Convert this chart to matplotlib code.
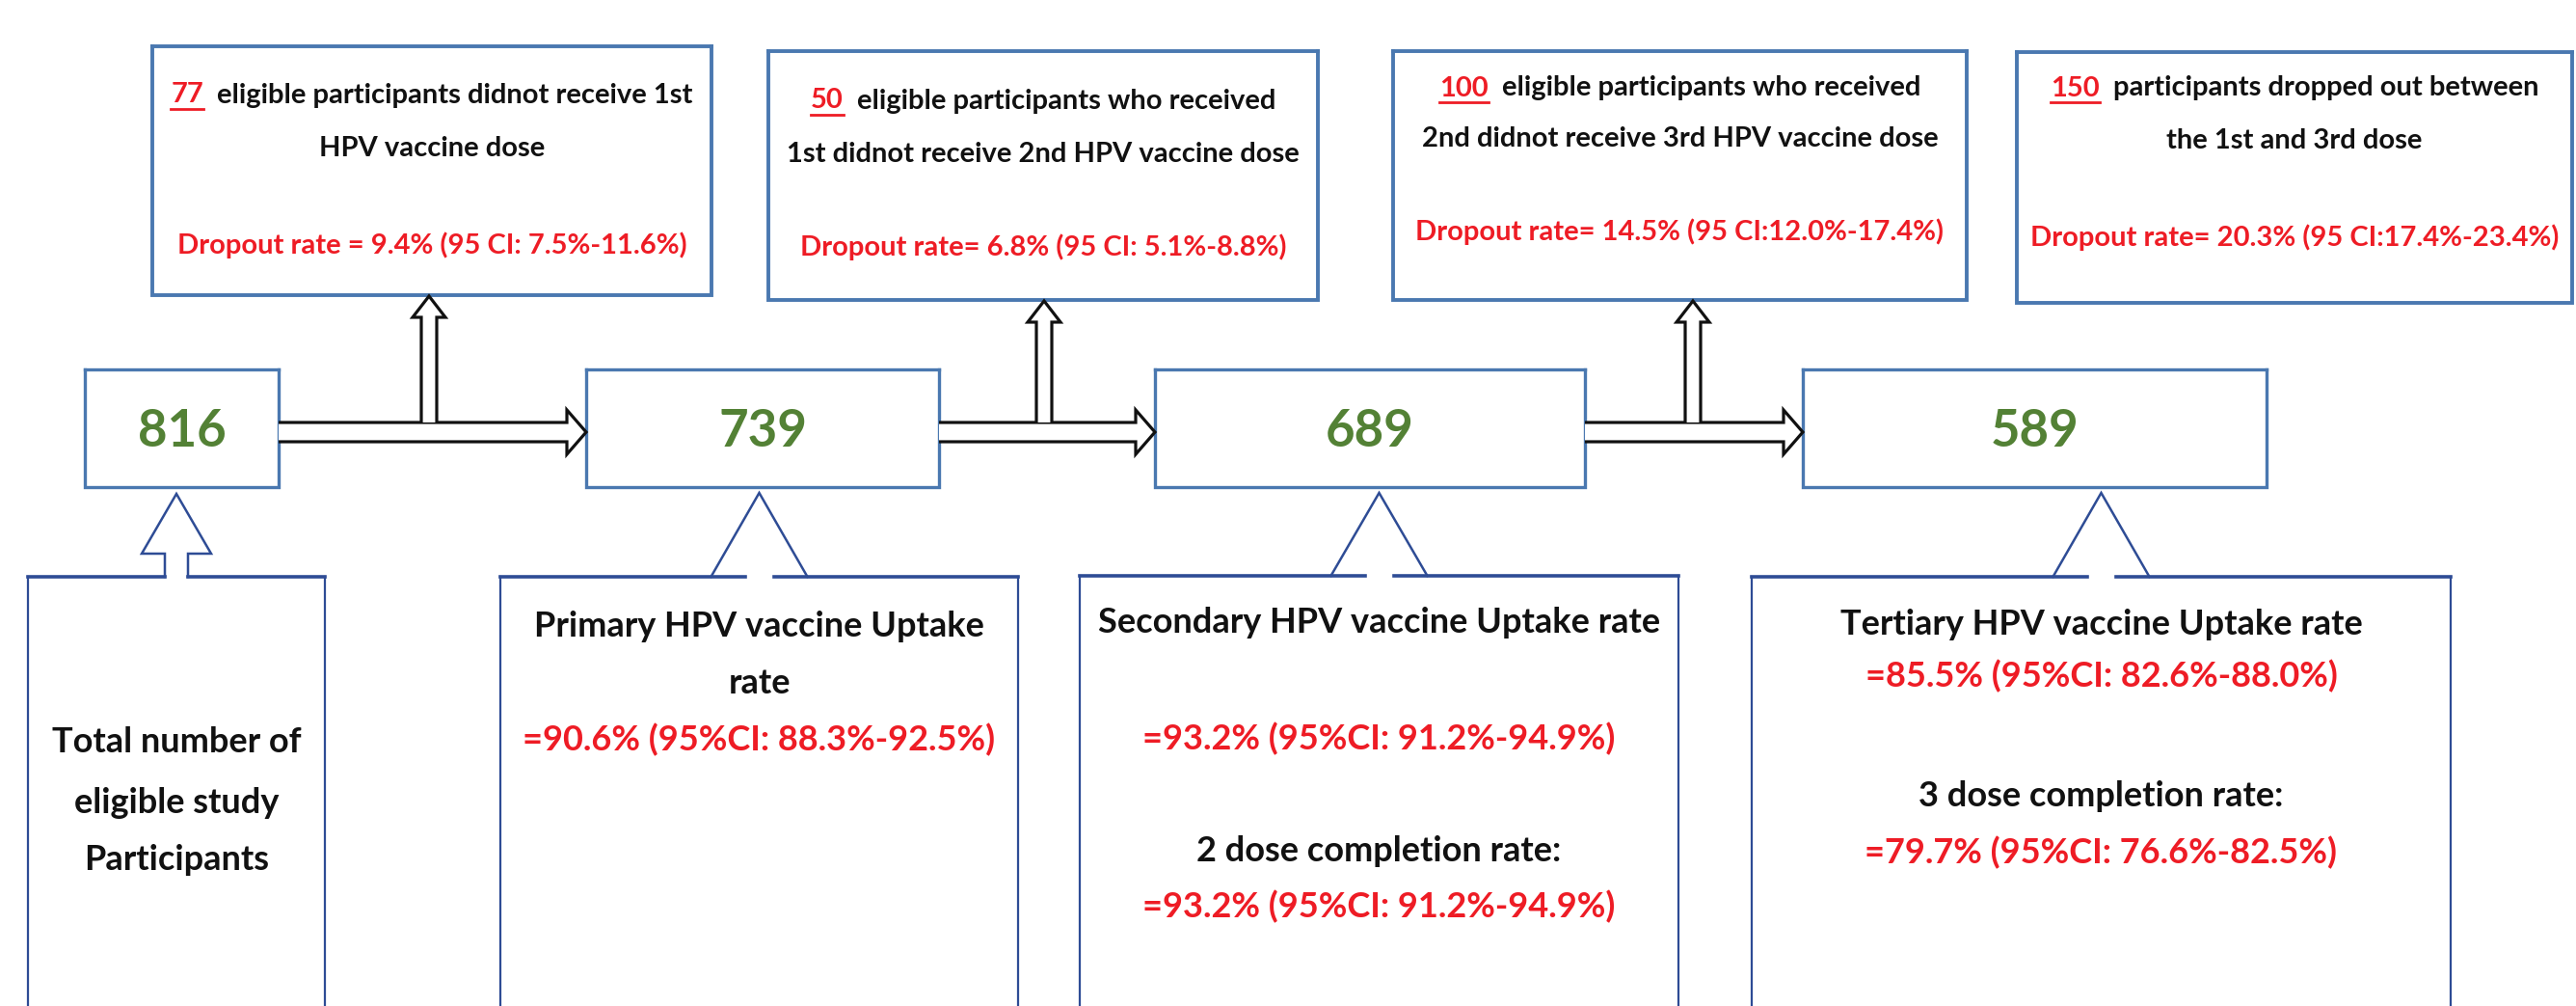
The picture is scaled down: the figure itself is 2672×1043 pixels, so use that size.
import matplotlib
matplotlib.use("Agg")
import matplotlib.pyplot as plt
from matplotlib.patches import Polygon

W, H = 2672, 1043

# ======================================================
# Data
# ======================================================

counts = [816, 739, 689, 589]

dropout_n = ["77", "50", "100", "150"]
dropout_text1 = [
    "eligible participants didnot receive 1st",
    "eligible participants who received",
    "eligible participants who received",
    "participants dropped out between",
]
dropout_text2 = [
    "HPV vaccine dose",
    "1st didnot receive 2nd HPV vaccine dose",
    "2nd didnot receive 3rd HPV vaccine dose",
    "the 1st and 3rd dose",
]
dropout_rate = [
    "Dropout rate = 9.4% (95 CI: 7.5%-11.6%)",
    "Dropout rate= 6.8% (95 CI: 5.1%-8.8%)",
    "Dropout rate= 14.5% (95 CI:12.0%-17.4%)",
    "Dropout rate= 20.3% (95 CI:17.4%-23.4%)",
]

total_label = ["Total number of", "eligible study", "Participants"]
primary_label = ["Primary HPV vaccine Uptake", "rate"]
primary_rate = "=90.6% (95%CI: 88.3%-92.5%)"
secondary_label = "Secondary HPV vaccine Uptake rate"
secondary_rate = "=93.2% (95%CI: 91.2%-94.9%)"
two_dose_label = "2 dose completion rate:"
two_dose_rate = "=93.2% (95%CI: 91.2%-94.9%)"
tertiary_label = "Tertiary HPV vaccine Uptake rate"
tertiary_rate = "=85.5% (95%CI: 82.6%-88.0%)"
three_dose_label = "3 dose completion rate:"
three_dose_rate = "=79.7% (95%CI: 76.6%-82.5%)"

# ======================================================
# Layout / style
# ======================================================

plt.rcParams["font.family"] = ["Lato", "DejaVu Sans"]

BLACK = "#111111"
RED = "#ee1c25"
GREEN = "#538135"
EDGE = "#4a78b0"
EDGE_DARK = "#2e4c95"

top_boxes = [(158, 48, 738, 306), (797, 53, 1367, 311),
             (1445, 53, 2040, 311), (2092, 54, 2668, 314)]
top_y = [(96, 152, 252), (102, 157, 255), (89, 141, 238), (89, 143, 245)]
mid_boxes = [(88, 383, 289, 505), (608, 383, 974, 505),
             (1198, 383, 1644, 505), (1870, 383, 2351, 505)]
bot_boxes = [(29, 598, 337), (519, 598, 1056),
             (1120, 597, 1741), (1817, 598, 2542)]
up_x = [445, 1083, 1756]
arrow_y = 448

size_top = 21
size_num = 38
size_bot = 26

fig = plt.figure(figsize=(W / 100, H / 100), dpi=100)
ax = fig.add_axes([0, 0, 1, 1])
ax.set_xlim(0, W)
ax.set_ylim(H, 0)
ax.axis("off")
renderer = fig.canvas.get_renderer()


def line(xs, ys, color, lw):
    ax.plot(xs, ys, color=color, lw=lw, solid_capstyle="projecting",
            solid_joinstyle="miter")


def box(x0, y0, x1, y1, color, lw, top_lw=None, gap=None):
    line([x0, x0, x1, x1], [y0, y1, y1, y0], color, lw)
    tl = top_lw or lw
    if gap is None:
        line([x0, x1], [y0, y0], color, tl)
    else:
        line([x0, gap[0]], [y0, y0], color, tl)
        line([gap[1], x1], [y0, y0], color, tl)


def write(x, y, s, color=BLACK, size=20):
    # y is the visual centre of the capitals
    return ax.text(x, y + size * 0.5, s, color=color, fontsize=size,
                   fontweight="bold", ha="center", va="baseline")


def write_parts(xc, y, parts, size, gap=10):
    objs = []
    for s, c, _ in parts:
        objs.append(ax.text(0, y + size * 0.5, s, color=c, fontsize=size,
                            fontweight="bold", ha="left", va="baseline"))
    widths = [t.get_window_extent(renderer).width for t in objs]
    x = xc - (sum(widths) + gap * (len(objs) - 1)) / 2
    for t, w, (s, c, under) in zip(objs, widths, parts):
        t.set_x(x)
        if under:
            uy = y + size * 0.5 + 6
            line([x, x + w], [uy, uy], c, 2.0)
        x += w + gap


# ======================================================
# Top boxes (dropouts)
# ======================================================

for i, (x0, y0, x1, y1) in enumerate(top_boxes):
    box(x0, y0, x1, y1, EDGE, 2.8)
    xc = (x0 + x1) / 2
    y_a, y_b, y_c = top_y[i]
    write_parts(xc, y_a, [(dropout_n[i], RED, True),
                          (dropout_text1[i], BLACK, False)], size_top, gap=14)
    write(xc, y_b, dropout_text2[i], BLACK, size_top)
    write(xc, y_c, dropout_rate[i], RED, size_top)

# ======================================================
# Middle boxes (counts)
# ======================================================

for (x0, y0, x1, y1), n in zip(mid_boxes, counts):
    box(x0, y0, x1, y1, EDGE, 2.4)
    write((x0 + x1) / 2, (y0 + y1) / 2, str(n), GREEN, size_num)

# horizontal block arrows between count boxes
for i in range(3):
    xs = mid_boxes[i][2]
    xt = mid_boxes[i + 1][0]
    xh = xt - 20
    pts = [(xs, arrow_y - 10), (xh, arrow_y - 10), (xh, arrow_y - 23),
           (xt, arrow_y), (xh, arrow_y + 23), (xh, arrow_y + 10),
           (xs, arrow_y + 10)]
    ax.add_patch(Polygon(pts, closed=False, fc="white", ec=BLACK,
                         lw=2.3, joinstyle="miter", zorder=3))

# up block arrows to dropout boxes
for i, x in enumerate(up_x):
    yt = top_boxes[i][3] + 1
    yb = arrow_y - 10
    pts = [(x - 8, yb), (x - 8, yt + 22), (x - 17, yt + 22), (x, yt),
           (x + 17, yt + 22), (x + 8, yt + 22), (x + 8, yb)]
    ax.add_patch(Polygon(pts, closed=False, fc="white", ec=BLACK,
                         lw=2.3, joinstyle="miter", zorder=4))

# ======================================================
# Bottom boxes (rates)
# ======================================================

for i, (x0, y0, x1) in enumerate(bot_boxes):
    xc = (x0 + x1) / 2
    if i == 0:
        box(x0, y0, x1, H + 50, EDGE_DARK, 1.6, top_lw=2.6,
            gap=(xc - 12, xc + 12))
        line([xc - 12, xc - 12, xc - 36, xc, xc + 36, xc + 12, xc + 12],
             [y0, 574, 574, 512, 574, 574, y0], EDGE_DARK, 1.8)
    else:
        box(x0, y0, x1, H + 50, EDGE_DARK, 1.6, top_lw=2.6,
            gap=(xc - 15, xc + 15))
        line([xc - 50, xc, xc + 50], [y0, 511, y0], EDGE_DARK, 1.8)

bx = [(b[0] + b[2]) / 2 for b in bot_boxes]

write(bx[0], 767, total_label[0], BLACK, size_bot)
write(bx[0], 830, total_label[1], BLACK, size_bot)
write(bx[0], 889, total_label[2], BLACK, size_bot)

write(bx[1], 647, primary_label[0], BLACK, size_bot)
write(bx[1], 706, primary_label[1], BLACK, size_bot)
write(bx[1], 765, primary_rate, RED, size_bot)

write(bx[2], 643, secondary_label, BLACK, size_bot)
write(bx[2], 764, secondary_rate, RED, size_bot)
write(bx[2], 880, two_dose_label, BLACK, size_bot)
write(bx[2], 938, two_dose_rate, RED, size_bot)

write(bx[3], 645, tertiary_label, BLACK, size_bot)
write(bx[3], 699, tertiary_rate, RED, size_bot)
write(bx[3], 823, three_dose_label, BLACK, size_bot)
write(bx[3], 882, three_dose_rate, RED, size_bot)

fig.savefig("out.png", dpi=100, facecolor="white")
